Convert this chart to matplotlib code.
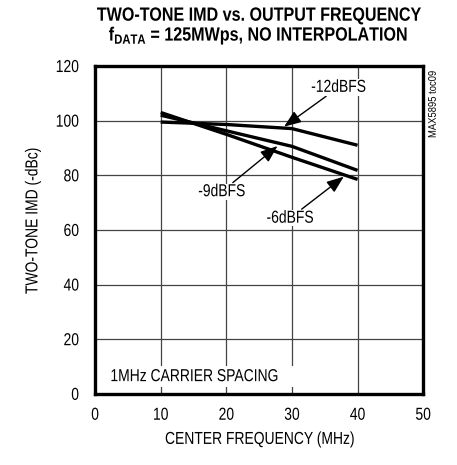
import matplotlib
matplotlib.use("Agg")
import matplotlib.pyplot as plt
from matplotlib.patheffects import AbstractPathEffect
from matplotlib.transforms import Affine2D

plt.rcParams["font.family"] = ["Liberation Sans", "DejaVu Sans"]
plt.rcParams["mathtext.fontset"] = "custom"
plt.rcParams["mathtext.bf"] = "Liberation Sans:bold"
plt.rcParams["mathtext.rm"] = "Liberation Sans"

# ===== data =====
freq = [10, 20, 30, 40]
imd_12dbfs = [99.5, 98.6, 97.1, 91.0]
imd_9dbfs = [102.0, 96.3, 90.6, 81.8]
imd_6dbfs = [103.0, 95.0, 86.6, 78.5]

x_ticks = [0, 10, 20, 30, 40, 50]
y_ticks = [0, 20, 40, 60, 80, 100, 120]


# 没有窄体字体，用路径效果把文字横向压缩
class Squeeze(AbstractPathEffect):
    def __init__(self, sx=0.8, anchor="center"):
        super().__init__()
        self.sx = sx
        self.anchor = anchor

    def draw_path(self, renderer, gc, tpath, affine, rgbFace=None):
        ext = tpath.get_extents()
        if self.anchor == "left":
            x0 = ext.x0
        elif self.anchor == "right":
            x0 = ext.x1
        else:
            x0 = (ext.x0 + ext.x1) / 2
        t = Affine2D().translate(-x0, 0).scale(self.sx, 1).translate(x0, 0)
        renderer.draw_path(gc, tpath, t + affine, rgbFace)


SX = 0.8
FS = 12.5

fig = plt.figure(figsize=(4.57, 4.65), dpi=100)
ax = fig.add_axes([0.208, 0.153, 0.718, 0.705])

for vals in (imd_12dbfs, imd_9dbfs, imd_6dbfs):
    ax.plot(freq, vals, color="black", lw=2.4, solid_capstyle="butt", zorder=3)

ax.set_xlim(0, 50)
ax.set_ylim(0, 120)
ax.set_xticks(x_ticks)
ax.set_yticks(y_ticks)
ax.grid(True, color="#444444", lw=0.9)
ax.set_axisbelow(True)
ax.tick_params(length=0, labelsize=FS)
ax.tick_params(axis="y", pad=11.5)
ax.tick_params(axis="x", pad=10)
for s in ax.spines.values():
    s.set_linewidth(2.4)
for lbl in ax.get_xticklabels():
    lbl.set_path_effects([Squeeze(SX, "center")])
for lbl in ax.get_yticklabels():
    lbl.set_path_effects([Squeeze(SX, "right")])

fig.text(0.568, 0.055, "CENTER FREQUENCY (MHz)", fontsize=FS, ha="center",
         va="center", path_effects=[Squeeze(SX)])
fig.text(0.072, 0.525, "TWO-TONE IMD (-dBc)", fontsize=FS, rotation=90,
         ha="center", va="center", path_effects=[Squeeze(SX)])

# 标注
box = dict(facecolor="white", edgecolor="none", pad=0.5)
arrow = dict(arrowstyle="-|>,head_length=0.65,head_width=0.25", color="black",
             lw=1.0, mutation_scale=16, shrinkA=1, shrinkB=0)
ax.annotate("-12dBFS", xy=(28.8, 97.8), xytext=(37.1, 112.2), fontsize=FS,
            ha="center", va="center", bbox=box, arrowprops=arrow, zorder=5,
            path_effects=[Squeeze(SX)])
ax.annotate("-9dBFS", xy=(27.8, 90.7), xytext=(19.3, 74.0), fontsize=FS,
            ha="center", va="center", bbox=box, arrowprops=arrow, zorder=5,
            path_effects=[Squeeze(SX)])
ax.annotate("-6dBFS", xy=(37.9, 79.5), xytext=(29.7, 64.3), fontsize=FS,
            ha="center", va="center", bbox=box, arrowprops=arrow, zorder=5,
            path_effects=[Squeeze(SX)])
ax.text(2.3, 6.3, "1MHz CARRIER SPACING", fontsize=FS, ha="left", va="center",
        bbox=dict(facecolor="white", edgecolor="none", pad=2), zorder=5,
        path_effects=[Squeeze(SX, "left")])

fig.text(0.947, 0.86, "MAX5895 toc09", rotation=90, fontsize=8,
         ha="center", va="top", path_effects=[Squeeze(0.85)])

fig.text(0.565, 0.9555, "TWO-TONE IMD vs. OUTPUT FREQUENCY", fontsize=13.8,
         fontweight="bold", ha="center", va="baseline",
         path_effects=[Squeeze(0.84)])
fig.text(0.565, 0.9125, r"f$_{\mathbf{DATA}}$ = 125MWps, NO INTERPOLATION",
         fontsize=13.8, fontweight="bold", ha="center", va="baseline",
         path_effects=[Squeeze(0.84)])

fig.savefig("out.png", dpi=100)
plt.close(fig)
